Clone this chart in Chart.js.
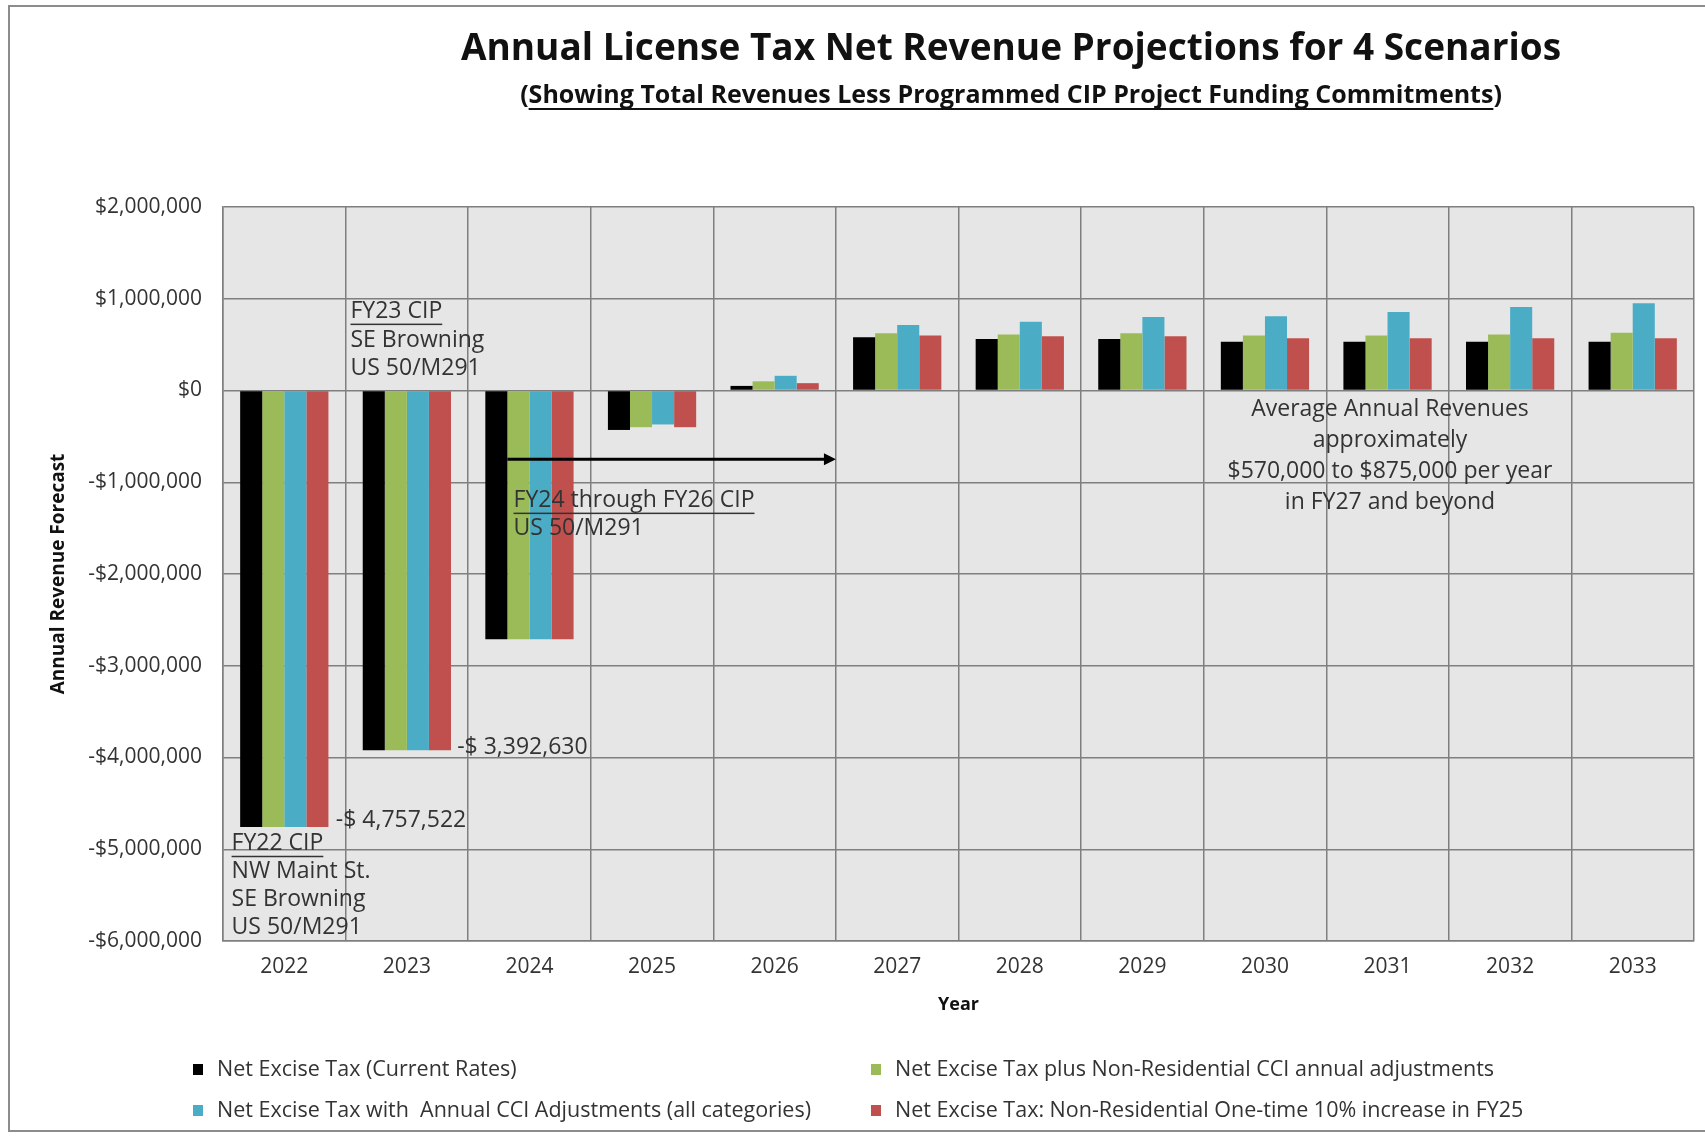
<!DOCTYPE html>
<html>
<head>
<meta charset="utf-8">
<script src="https://cdn.jsdelivr.net/npm/chart.js@4.4.0/dist/chart.umd.min.js"></script>
<style>
    html, body { margin: 0; padding: 0; background: #fff; }
    #ChartBox { width: 1705px; height: 1138px; position: relative; }
</style>
</head>
<body>
<div id="ChartBox"><canvas id="MyChart"></canvas></div>
<script>
// chart data
var years = ["2022", "2023", "2024", "2025", "2026", "2027", "2028", "2029", "2030", "2031", "2032", "2033"];
var currentRates = [-4757522, -3920000, -2710000, -430000, 50000, 580000, 560000, 560000, 530000, 530000, 530000, 530000];
var nonResCci = [-4757522, -3920000, -2710000, -400000, 100000, 625000, 610000, 625000, 600000, 600000, 610000, 630000];
var allCategoriesCci = [-4757522, -3920000, -2710000, -370000, 160000, 715000, 750000, 800000, 810000, 855000, 910000, 950000];
var oneTimeIncrease = [-4757522, -3920000, -2710000, -400000, 80000, 600000, 590000, 590000, 570000, 570000, 570000, 570000];

var seriesNames = [
    "Net Excise Tax (Current Rates)",
    "Net Excise Tax plus Non-Residential CCI annual adjustments",
    "Net Excise Tax with  Annual CCI Adjustments (all categories)",
    "Net Excise Tax: Non-Residential One-time 10% increase in FY25"
];
var seriesColors = ["#000000", "#9bbb59", "#4bacc6", "#c0504d"];

var yMin = -6000000, yMax = 2000000, yStep = 1000000;

var chartTitle = "Annual License Tax Net Revenue Projections for 4 Scenarios";
var chartSubtitle = "Showing Total Revenues Less Programmed CIP Project Funding Commitments";
var xTitle = "Year";
var yTitle = "Annual Revenue Forecast";

// notes written on the plot, anchored on category index / value
var notes = [
    { lines: ["FY23 CIP", "SE Browning", "US 50/M291"], cat: 0.54, val: 860000, align: "left", under: true, lh: 28.5 },
    { lines: ["FY22 CIP", "NW Maint St.", "SE Browning", "US 50/M291"], cat: -0.43, val: -4940000, align: "left", under: true, lh: 27.8 },
    { lines: ["FY24 through FY26 CIP", "US 50/M291"], cat: 1.87, val: -1200000, align: "left", under: true, lh: 28 },
    { lines: ["-$ 4,757,522"], cat: 0.42, val: -4690000, align: "left", under: false, lh: 28 },
    { lines: ["-$ 3,392,630"], cat: 1.41, val: -3890000, align: "left", under: false, lh: 28 },
    { lines: ["Average Annual Revenues", "approximately", "$570,000 to $875,000 per year", "in FY27 and beyond"], cat: 9.02, val: -210000, align: "center", under: false, lh: 30.8 }
];
var arrowNote = { fromCat: 1.82, toCat: 4.5, val: -750000 };

var FONT = "'Open Sans', sans-serif";

function money(v) {
    return (v < 0 ? "-" : "") + "$" + Math.abs(v).toLocaleString("en-US");
}

var decorPlugin = {
    id: "decor",
    beforeDraw: (chart) => {
        const ctx = chart.ctx;
        const area = chart.chartArea;
        ctx.save();
        ctx.fillStyle = "#ffffff";
        ctx.fillRect(0, 0, chart.width, chart.height);
        ctx.strokeStyle = "#8c8c8c";
        ctx.lineWidth = 2;
        ctx.strokeRect(9, 6, chart.width + 20, 1125);
        ctx.fillStyle = "#e6e6e6";
        ctx.fillRect(area.left, area.top, area.right - area.left, area.bottom - area.top);
        ctx.restore();
    },
    afterDraw: (chart) => {
        const ctx = chart.ctx;
        const x = chart.scales.x;
        const y = chart.scales.y;
        const area = chart.chartArea;
        const catW = (area.right - area.left) / years.length;
        ctx.save();

        // title + subtitle
        ctx.fillStyle = "#111";
        ctx.textAlign = "center";
        ctx.textBaseline = "middle";
        ctx.font = "bold 37px " + FONT;
        ctx.fillText(chartTitle, 1011, 49);

        ctx.font = "bold 25px " + FONT;
        let inner = ctx.measureText(chartSubtitle).width;
        let paren = ctx.measureText("(").width;
        let total = inner + paren * 2;
        let sx = 1011 - total / 2;
        ctx.textAlign = "left";
        ctx.fillText("(", sx, 96);
        ctx.fillText(chartSubtitle, sx + paren, 96);
        ctx.fillText(")", sx + paren + inner, 96);
        ctx.fillRect(sx + paren, 108, inner, 2);

        // axis titles
        ctx.textAlign = "center";
        ctx.font = "bold 18px " + FONT;
        ctx.fillText(xTitle, (area.left + area.right) / 2, 1005);
        ctx.save();
        ctx.translate(59, (area.top + area.bottom) / 2 + 0);
        ctx.rotate(-Math.PI / 2);
        ctx.font = "bold 19px " + FONT;
        ctx.fillText(yTitle, 0, 0);
        ctx.restore();

        // notes
        ctx.fillStyle = "#333";
        ctx.font = "23px " + FONT;
        notes.forEach((n) => {
            let nx = x.getPixelForValue(0) + n.cat * catW;
            let ny = y.getPixelForValue(n.val);
            ctx.textAlign = n.align;
            n.lines.forEach((line, i) => {
                let ly = ny + i * n.lh;
                ctx.fillText(line, nx, ly);
                if (n.under && i === 0) {
                    let w = ctx.measureText(line).width;
                    ctx.fillRect(nx, ly + 12, w, 1.5);
                }
            });
        });

        // arrow
        let ax1 = x.getPixelForValue(0) + arrowNote.fromCat * catW;
        let ax2 = x.getPixelForValue(0) + arrowNote.toCat * catW;
        let ay = y.getPixelForValue(arrowNote.val);
        ctx.strokeStyle = "#000";
        ctx.fillStyle = "#000";
        ctx.lineWidth = 3;
        ctx.beginPath();
        ctx.moveTo(ax1, ay);
        ctx.lineTo(ax2 - 8, ay);
        ctx.stroke();
        ctx.beginPath();
        ctx.moveTo(ax2, ay);
        ctx.lineTo(ax2 - 12, ay - 6);
        ctx.lineTo(ax2 - 12, ay + 6);
        ctx.closePath();
        ctx.fill();

        // legend, two columns
        let cols = [193, 871];
        let rows = [1070, 1111];
        ctx.font = "21.5px " + FONT;
        ctx.textAlign = "left";
        chart.data.datasets.forEach((ds, i) => {
            let lx = cols[i % 2];
            let ly = rows[Math.floor(i / 2)];
            ctx.fillStyle = ds.backgroundColor;
            ctx.fillRect(lx, ly - 6, 10, 11);
            ctx.fillStyle = "#333";
            ctx.fillText(ds.label, lx + 24, ly);
        });
        ctx.restore();
    }
};

const ctx = document.getElementById("MyChart");
var seriesData = [currentRates, nonResCci, allCategoriesCci, oneTimeIncrease];

var ChartView = new Chart(ctx, {
    type: "bar",
    data: {
        labels: years,
        datasets: seriesData.map((d, i) => ({
            label: seriesNames[i],
            data: d,
            backgroundColor: seriesColors[i],
            borderWidth: 0,
            categoryPercentage: 0.72,
            barPercentage: 1.0
        }))
    },
    options: {
        responsive: true,
        maintainAspectRatio: false,
        animation: false,
        layout: { padding: { top: 207, right: 11, left: 0, bottom: 0 } },
        plugins: {
            legend: { display: false },
            title: { display: false },
            tooltip: { enabled: false }
        },
        scales: {
            x: {
                afterFit: (s) => { s.height = 197; },
                grid: { color: "#7f7f7f", lineWidth: 1.5, drawTicks: false, offset: true },
                border: { color: "#7f7f7f", width: 1.5 },
                ticks: { color: "#333", padding: 13, font: { family: "'Open Sans'", size: 21 } }
            },
            y: {
                min: yMin,
                max: yMax,
                afterFit: (s) => { s.width = 223; },
                grid: { color: "#7f7f7f", lineWidth: 1.5, drawTicks: false },
                border: { color: "#7f7f7f", width: 1.5 },
                ticks: {
                    stepSize: yStep,
                    padding: 21,
                    color: "#333",
                    font: { family: "'Open Sans'", size: 21 },
                    callback: (v) => money(v)
                }
            }
        }
    },
    plugins: [decorPlugin]
});
</script>
</body>
</html>
